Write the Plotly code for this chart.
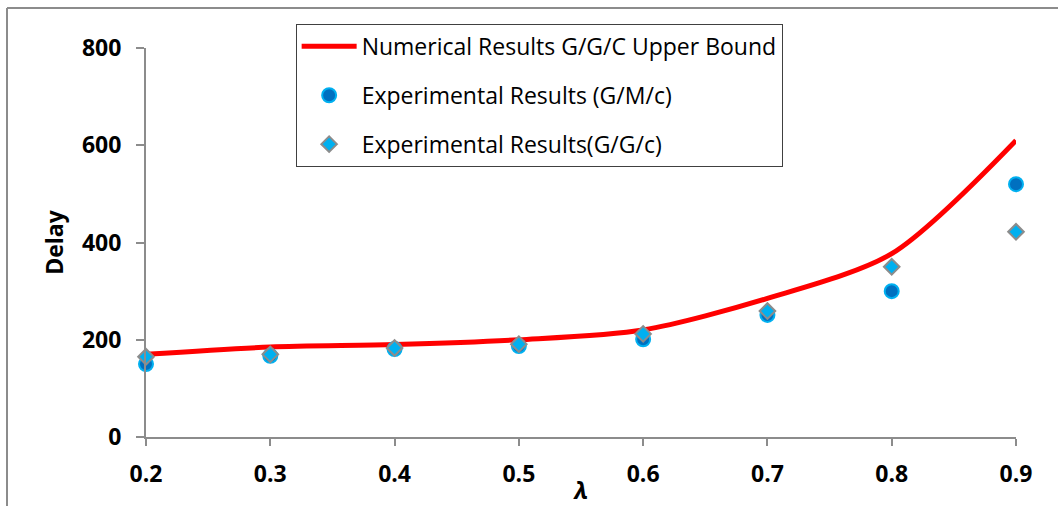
import plotly.graph_objects as go

lam = [0.2, 0.3, 0.4, 0.5, 0.6, 0.7, 0.8, 0.9]
upper_bound = [170, 185, 190, 200, 220, 285, 377, 610]
exp_gmc = [150, 167, 181, 187, 201, 251, 300, 520]
exp_ggc = [165, 170, 183, 191, 212, 259, 350, 422]
x_ticks = [0.2, 0.3, 0.4, 0.5, 0.6, 0.7, 0.8, 0.9]
y_ticks = [0, 200, 400, 600, 800]

FONT = "Open Sans"

fig = go.Figure()
fig.add_trace(go.Scatter(
    x=lam, y=upper_bound, mode="lines", name="Numerical Results G/G/C Upper Bound",
    line=dict(color="#FF0000", width=5, shape="spline", smoothing=0.8),
    legendgroup="a", cliponaxis=False))
fig.add_trace(go.Scatter(
    x=lam, y=exp_gmc, mode="markers", name="Experimental Results (G/M/c)",
    marker=dict(symbol="circle", size=14, color="#0070C0",
                line=dict(color="#00B0F0", width=2)),
    legendgroup="b", cliponaxis=False))
fig.add_trace(go.Scatter(
    x=lam, y=exp_ggc, mode="markers", name="Experimental Results(G/G/c)",
    marker=dict(symbol="diamond", size=12, color="#00B0F0",
                line=dict(color="#8C8C8C", width=2)),
    legendgroup="c", cliponaxis=False))

fig.update_layout(
    width=1058, height=506,
    margin=dict(l=146, r=42, t=48, b=69),
    paper_bgcolor="white", plot_bgcolor="white",
    font=dict(family=FONT, size=19, color="black"),
    showlegend=True,
    legend=dict(
        x=0.172, y=1.062, xanchor="left", yanchor="top",
        bordercolor="#404040", borderwidth=1, bgcolor="white",
        font=dict(family=FONT, size=23, color="black"),
        tracegroupgap=16, itemwidth=55,
    ),
    xaxis=dict(
        range=[0.2, 0.9], tickvals=x_ticks, ticktext=[f"{v:.1f}" for v in x_ticks],
        showgrid=False, zeroline=False, showline=True, linecolor="#8C8C8C", linewidth=2,
        ticks="outside", ticklen=7, tickcolor="#8C8C8C", tickwidth=2,
        ticklabelstandoff=8, automargin=False,
        tickfont=dict(family=FONT, size=23, color="black", weight="bold"),
        title=dict(text="<b><i>λ</i></b>", font=dict(family=FONT, size=24), standoff=0),
    ),
    yaxis=dict(
        range=[0, 800], tickvals=y_ticks,
        showgrid=False, zeroline=False, showline=True, linecolor="#8C8C8C", linewidth=2,
        ticks="outside", ticklen=8, tickcolor="#8C8C8C", tickwidth=2,
        ticklabelstandoff=10, automargin=False,
        tickfont=dict(family=FONT, size=23, color="black", weight="bold"),
        title=dict(text="<b>Delay</b>", font=dict(family=FONT, size=23), standoff=12),
    ),
    shapes=[
        dict(type="line", xref="paper", yref="paper",
             x0=(7 - 146) / 870, x1=(1058 - 146) / 870,
             y0=(437 - 8) / 389, y1=(437 - 8) / 389,
             line=dict(color="#8C8C8C", width=2)),
        dict(type="line", xref="paper", yref="paper",
             x0=(7 - 146) / 870, x1=(7 - 146) / 870,
             y0=(437 - 8) / 389, y1=(437 - 506) / 389,
             line=dict(color="#8C8C8C", width=2)),
    ],
)

fig.write_html("out.html")
